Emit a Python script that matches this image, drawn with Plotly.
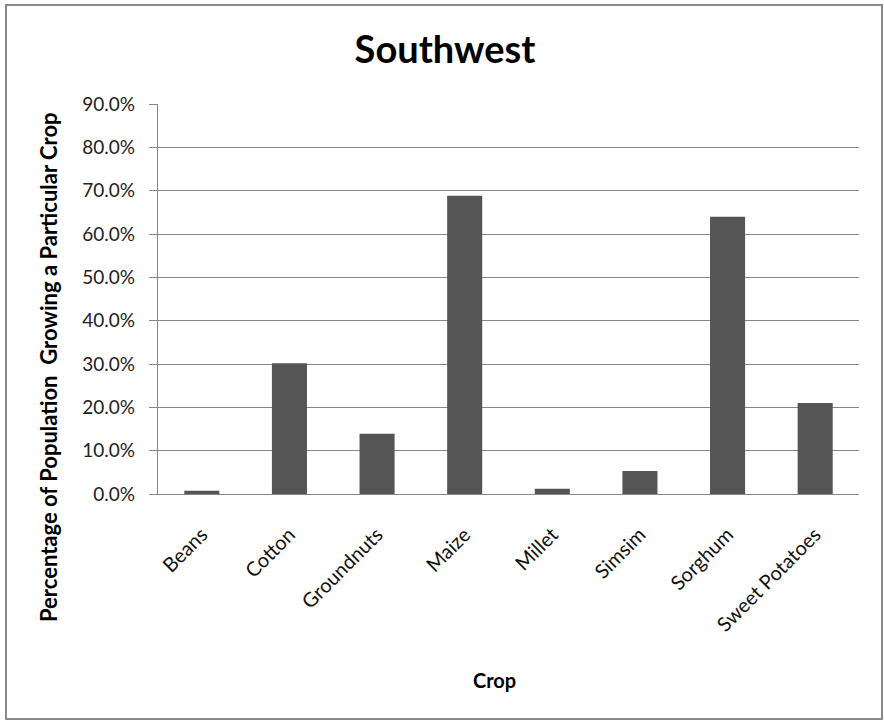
import plotly.graph_objects as go

crops = ["Beans", "Cotton", "Groundnuts", "Maize", "Millet", "Simsim", "Sorghum", "Sweet Potatoes"]
pct = [0.75, 30.2, 13.9, 68.8, 1.2, 5.3, 64.0, 21.0]
y_ticks = [0, 10, 20, 30, 40, 50, 60, 70, 80, 90]
y_tick_labels = [f"{v:.1f}%" for v in y_ticks]

FONT = "Lato"
W, H = 884, 721
L, R, T, B = 158, 25, 104, 227
pw, ph = W - L - R, H - T - B

def px(x):
    return (x - L) / pw

def py(y):
    return (H - B - y) / ph

fig = go.Figure(go.Bar(
    x=crops, y=pct,
    marker=dict(color="#555555", line=dict(width=0)),
))

fig.update_layout(
    width=W, height=H,
    margin=dict(l=L, r=R, t=T, b=B, autoexpand=False),
    paper_bgcolor="white", plot_bgcolor="white",
    bargap=0.6,
    showlegend=False,
    font=dict(family=FONT, color="#000000"),
    title=dict(text="<b>Southwest</b>", x=px(445), xref="paper", xanchor="center",
               y=1 - 50 / H, yref="container", yanchor="middle",
               font=dict(size=38, family=FONT, color="#000")),
)

fig.update_yaxes(
    range=[0, 90], tickvals=y_ticks, ticktext=y_tick_labels,
    showgrid=True, gridcolor="#868686", gridwidth=1.3,
    showline=True, linecolor="#868686", linewidth=1.3,
    ticks="outside", ticklen=8, tickcolor="#868686", tickwidth=1.3,
    tickfont=dict(size=19, family=FONT, color="#222"),
    ticklabelstandoff=10,
    zeroline=False, automargin=False,
)
fig.update_xaxes(
    showline=True, linecolor="#868686", linewidth=1.3,
    ticks="", tickangle=-45,
    tickfont=dict(size=20, family=FONT, color="#111"),
    ticklabelstandoff=20,
    automargin=False,
)

fig.add_annotation(
    text="<b>Percentage of Population  Growing a Particular Crop</b>",
    xref="paper", yref="paper", x=px(48), y=py(367), textangle=-90,
    showarrow=False, xanchor="center", yanchor="middle",
    font=dict(size=22, family=FONT, color="#000"),
)
fig.add_annotation(
    text="<b>Crop</b>", xref="paper", yref="paper", x=px(494), y=py(680),
    showarrow=False, xanchor="center", yanchor="middle",
    font=dict(size=20, family=FONT, color="#000"),
)

fig.add_shape(
    type="rect", xref="paper", yref="paper",
    x0=px(6), x1=px(882), y0=py(719), y1=py(5),
    line=dict(color="#8a8a8a", width=2), fillcolor="rgba(0,0,0,0)", layer="below",
)

fig.write_html("out.html")
